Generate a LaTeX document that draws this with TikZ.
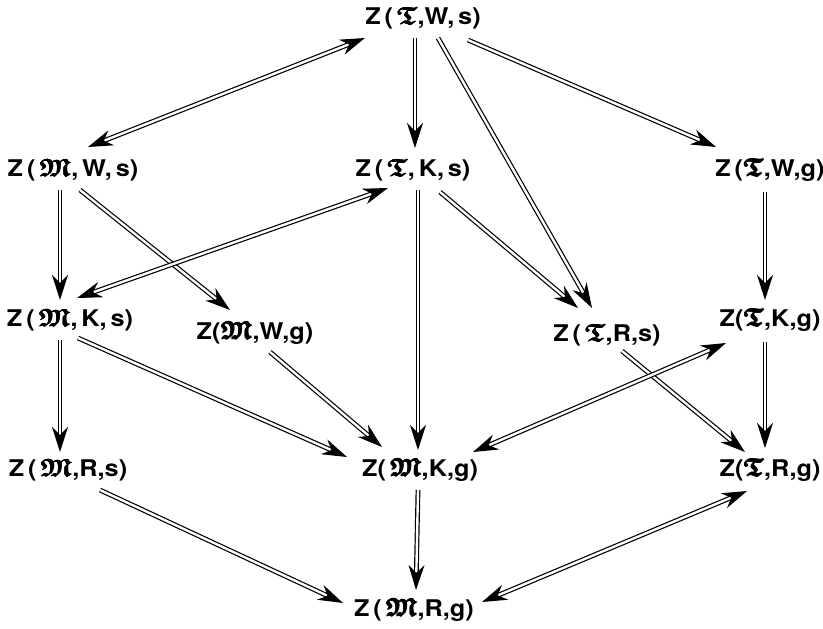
\documentclass[tikz,border=0pt]{standalone}
\usepackage{amsmath,amssymb}
\usepackage{fontspec}
\setmainfont[FakeStretch=1.1]{TeX Gyre Heros}
\usetikzlibrary{arrows.meta,calc}
\newcommand\fbold[1]{\rlap{#1}\raisebox{0.4pt}{\rlap{#1}}\kern0.5pt\rlap{#1}\raisebox{0.4pt}{\rlap{#1}}\kern0.5pt#1}
\newcommand\FM{\fbold{{\fontsize{25}{25}\selectfont\boldmath$\mathfrak{M}$}}}
\newcommand\FT{\fbold{{\fontsize{25}{25}\selectfont\boldmath$\mathfrak{T}$}}}
\tikzset{
  lbl/.style={inner sep=1pt, font=\fontsize{23}{26}\selectfont\bfseries},
  tip/.style={line width=1.2pt, -{Stealth[length=25pt,width=16pt,inset=8pt]}},
  dbl/.style={line width=1.2pt, double=white, double distance=2.4pt},
}
\newcommand\setpts[6]{\coordinate (arrS) at ([shift={(#2,#3)}]#1.center);
  \coordinate (arrE) at ([shift={(#5,#6)}]#4.center);}
\newcommand\arrA[6]{\setpts{#1}{#2}{#3}{#4}{#5}{#6}
  \draw[dbl, shorten >=14pt] (arrS) -- (arrE);
  \draw[tip] ($(arrE)!17.5pt!(arrS)$) -- (arrE);}
\newcommand\arrB[6]{\setpts{#1}{#2}{#3}{#4}{#5}{#6}
  \draw[dbl, shorten >=14pt, shorten <=14pt] (arrS) -- (arrE);
  \draw[tip] ($(arrE)!17.5pt!(arrS)$) -- (arrE);
  \draw[tip] ($(arrS)!17.5pt!(arrE)$) -- (arrS);}
\begin{document}
\begin{tikzpicture}[x=1pt,y=-1pt]
\useasboundingbox[fill=white] (0,0) rectangle (823,629);
\node[lbl] (TWs) at (423,18) {Z\,(\,\FT,W,\,s)};
\node[lbl] (MWs) at (73,170) {Z\,(\,\FM,\,W,\,s)};
\node[lbl] (TKs) at (413,170) {Z\,(\,\FT,\,K,\,s)};
\node[lbl] (TWg) at (770,170) {Z\,(\FT,W,g)};
\node[lbl] (MKs) at (70,320) {Z\,(\,\FM,\,K,\,s)};
\node[lbl] (MWg) at (255,333) {Z(\FM,W,g)};
\node[lbl] (TRs) at (607,335) {Z\,(\,\FT,R,s)};
\node[lbl] (TKg) at (770,320) {Z(\FT,K,g)};
\node[lbl] (MRs) at (68,470) {Z\,(\,\FM,R,s)};
\node[lbl] (MKg) at (420,470) {Z(\,\FM,K,g)};
\node[lbl] (TRg) at (770,470) {Z(\FT,R,g)};
\node[lbl] (MRg) at (414,610) {Z\,(\,\FM,R,g)};
\arrB{MWs}{15}{-23}{TWs}{-58}{20}
\arrA{TWs}{-8}{20}{TKs}{2}{-22}
\arrA{TWs}{15}{20}{TRs}{-15}{-27}
\arrA{TWs}{45}{22}{TWg}{-54}{-23}
\arrA{MWs}{-13}{20}{MKs}{-10}{-20}
\arrA{MWs}{7}{20}{MWg}{-25}{-23}
\arrB{MKs}{7}{-22}{TKs}{-25}{18}
\arrA{TKs}{5}{20}{MKg}{-2}{-20}
\arrA{TKs}{27}{22}{TRs}{-29}{-27}
\arrA{TWg}{-5}{22}{TKg}{-5}{-20}
\arrA{MKs}{-10}{20}{MRs}{-8}{-18}
\arrA{MKs}{8}{18}{MKg}{-73}{-13}
\arrA{MWg}{15}{19}{MKg}{-38}{-23}
\arrA{TRs}{15}{16}{TRg}{-25}{-18}
\arrB{TKg}{-44}{23}{MKg}{53}{-18}
\arrA{TKg}{-5}{22}{TRg}{-5}{-22}
\arrA{MRs}{32}{20}{MRg}{-71}{-7}
\arrA{MKg}{-2}{20}{MRg}{2}{-20}
\arrB{TRg}{-23}{21}{MRg}{68}{-8}
\end{tikzpicture}
\end{document}
